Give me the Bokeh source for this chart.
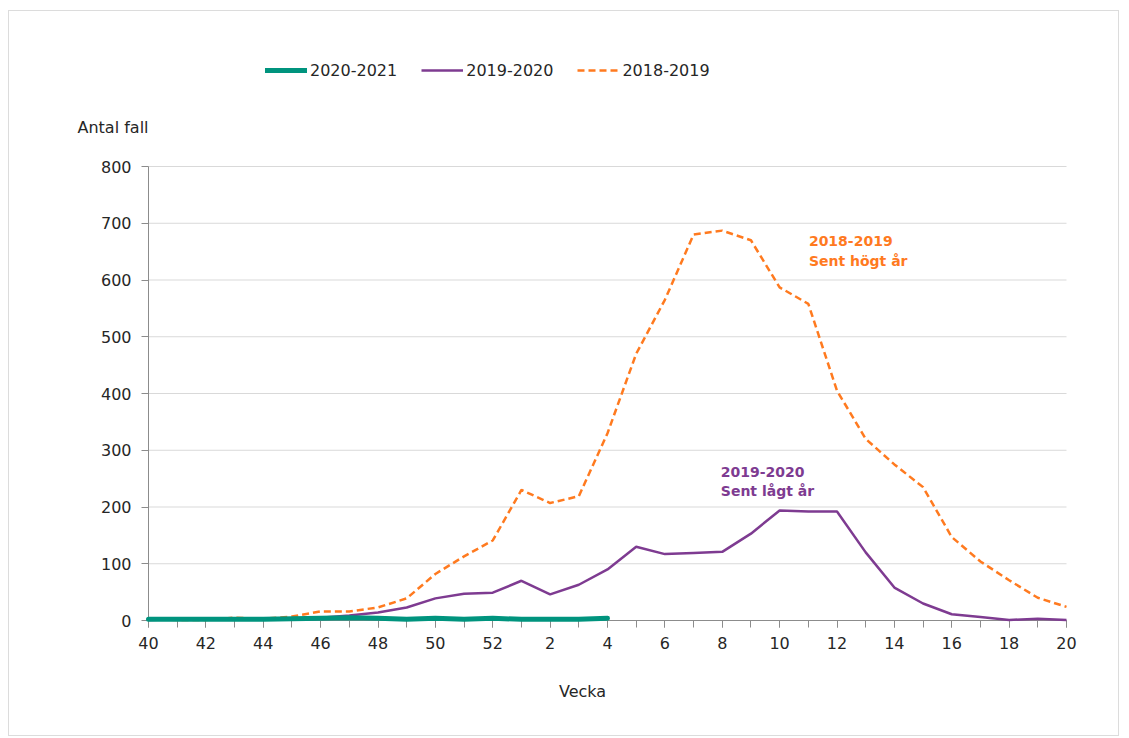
from bokeh.plotting import figure
from bokeh.models import (Range1d, FixedTicker, Legend, LegendItem, Label)
from bokeh.embed import file_html
from bokeh.resources import INLINE

weeks = ["40", "41", "42", "43", "44", "45", "46", "47", "48", "49", "50", "51", "52",
         "1", "2", "3", "4", "5", "6", "7", "8", "9", "10", "11", "12", "13", "14",
         "15", "16", "17", "18", "19", "20"]

s2018_2019 = [2, 1, 1, 5, 3, 7, 16, 16, 23, 39, 82, 113, 141, 230, 207, 219, 330,
              470, 565, 680, 687, 670, 587, 558, 405, 320, 275, 235, 147, 104, 71, 40, 24]
s2019_2020 = [1, 2, 2, 2, 2, 3, 5, 9, 14, 23, 39, 47, 49, 70, 46, 63, 90,
              130, 117, 119, 121, 153, 194, 192, 192, 120, 58, 30, 11, 6, 1, 3, 1]
s2020_2021 = [2, 2, 2, 2, 2, 3, 4, 5, 4, 2, 4, 2, 4, 2, 2, 2, 4]

y_ticks = [0, 100, 200, 300, 400, 500, 600, 700, 800]

ORANGE = "#FF7A1F"
PURPLE = "#7E3B91"
TEAL = "#00947E"
TXT = "#262626"
FONT = "DejaVu Sans"

x_all = list(range(len(weeks)))
n_last = len(weeks) - 1
y_max = y_ticks[-1]

# layout geometry (canvas pixels)
W, H = 1111, 726
AX_L, AX_R, AX_T, AX_B = 139, 1057, 155, 609   # plot area inside canvas
px_x = (AX_R - AX_L) / n_last
px_y = (AX_B - AX_T) / y_max
x0 = -AX_L / px_x
x1 = n_last + (W - AX_R) / px_x
y1 = y_max + AX_T / px_y
y0 = -(H - AX_B) / px_y

p = figure(width=W, height=H, output_backend="svg", toolbar_location=None,
           x_range=Range1d(x0, x1), y_range=Range1d(y0, y1), min_border=0)
p.styles = {"margin-left": "8px", "margin-top": "10px", "border": "1px solid #dcdcdc"}
p.outline_line_color = None
p.background_fill_color = "white"
p.border_fill_color = "white"

# grid (limited to the plotting area)
p.xgrid.grid_line_color = None
p.ygrid.grid_line_color = None
p.segment(x0=[0] * len(y_ticks), x1=[n_last] * len(y_ticks), y0=y_ticks, y1=y_ticks,
          line_color="#d9d9d9", line_width=1, level="underlay")

# axes
p.xaxis.fixed_location = 0
p.yaxis.fixed_location = 0
p.xaxis.bounds = (0, n_last)
p.yaxis.bounds = (0, y_max)
p.xaxis.ticker = FixedTicker(ticks=list(range(0, len(weeks), 2)), minor_ticks=x_all)
p.xaxis.major_label_overrides = {i: weeks[i] for i in range(0, len(weeks), 2)}
p.yaxis.ticker = FixedTicker(ticks=y_ticks)
for ax in (p.xaxis, p.yaxis):
    ax.axis_line_color = "#8c8c8c"
    ax.major_tick_line_color = "#8c8c8c"
    ax.minor_tick_line_color = "#8c8c8c"
    ax.major_tick_in = 0
    ax.major_tick_out = 7
    ax.major_label_text_font = FONT
    ax.major_label_text_font_size = "16px"
    ax.major_label_text_color = TXT
p.xaxis.minor_tick_in = 0
p.xaxis.minor_tick_out = 7
p.yaxis.minor_tick_line_color = None
p.xaxis.major_label_standoff = 9
p.yaxis.major_label_standoff = 10

r18 = p.line(x_all, s2018_2019, line_color=ORANGE, line_width=2.5, line_dash="7 4",
             level="annotation")
r19 = p.line(x_all, s2019_2020, line_color=PURPLE, line_width=2.5, level="annotation")
r20 = p.line(list(range(len(s2020_2021))), s2020_2021, line_color=TEAL, line_width=5,
             line_cap="round", level="annotation")

legend = Legend(items=[LegendItem(label="2020-2021", renderers=[r20]),
                       LegendItem(label="2019-2020", renderers=[r19]),
                       LegendItem(label="2018-2019", renderers=[r18])],
                orientation="horizontal", location=(256, 657),
                border_line_color=None, background_fill_alpha=0,
                padding=0, margin=0, spacing=24, glyph_width=42, glyph_height=16,
                label_standoff=3, label_text_font=FONT, label_text_font_size="16px",
                label_text_color=TXT, label_height=20)
p.add_layout(legend, "center")

# axis titles (canvas pixel units)
p.add_layout(Label(x=67, y=115, x_units="canvas", y_units="canvas", text="Antal fall",
                   text_font=FONT, text_font_size="16px", text_color=TXT,
                   text_baseline="middle"))
p.add_layout(Label(x=572, y=679, x_units="canvas", y_units="canvas", text="Vecka",
                   text_font=FONT, text_font_size="16px", text_color=TXT,
                   text_baseline="middle", text_align="center"))

# annotations
p.add_layout(Label(x=23.02, y=668, text="2018-2019", text_font=FONT,
                   text_font_size="14px", text_font_style="bold", text_color=ORANGE,
                   text_baseline="middle"))
p.add_layout(Label(x=23.02, y=634, text="Sent högt år", text_font=FONT,
                   text_font_size="14px", text_font_style="bold", text_color=ORANGE,
                   text_baseline="middle"))
p.add_layout(Label(x=19.95, y=262, text="2019-2020", text_font=FONT,
                   text_font_size="14px", text_font_style="bold", text_color=PURPLE,
                   text_baseline="middle"))
p.add_layout(Label(x=19.95, y=228, text="Sent lågt år", text_font=FONT,
                   text_font_size="14px", text_font_style="bold", text_color=PURPLE,
                   text_baseline="middle"))

open("out.html", "w").write(file_html(p, INLINE))
